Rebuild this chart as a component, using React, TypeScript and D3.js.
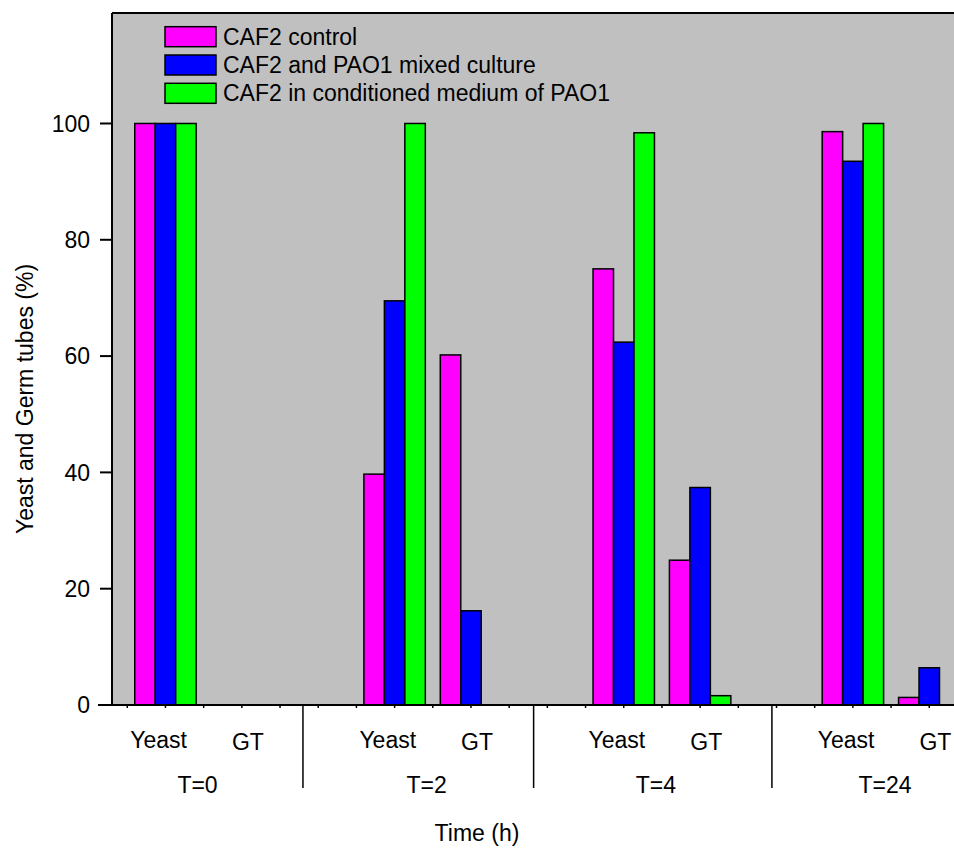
import React from "react";
import * as d3 from "d3";

const timepoints = ["T=0", "T=2", "T=4", "T=24"];
const stages = ["Yeast", "GT"];
const seriesNames = [
  "CAF2 control",
  "CAF2 and PAO1 mixed culture",
  "CAF2 in conditioned medium of PAO1",
];
const seriesColors = ["#FF00FF", "#0000FF", "#00FF00"];
// values ordered: T=0 Yeast, T=0 GT, T=2 Yeast, T=2 GT, T=4 Yeast, T=4 GT, T=24 Yeast, T=24 GT
const control = [100, 0, 39.7, 60.2, 75.0, 24.9, 98.6, 1.3];
const mixed = [100, 0, 69.5, 16.2, 62.4, 37.4, 93.5, 6.4];
const conditioned = [100, 0, 100, 0, 98.4, 1.6, 100, 0];
const yTicks = [0, 20, 40, 60, 80, 100];

const W = 954;
const H = 851;
const FONT = "'Liberation Sans', Arial, sans-serif";
const FS = 23;

export default function App() {
  const left = 112;
  const top = 13;
  const bottom = 705;
  const x = d3.scaleLinear().domain([-0.7, 10.5]).range([left, left + 11.2 * 76.38]);
  const y = d3.scaleLinear().domain([0, 119]).range([bottom, top]);
  const seriesData = [control, mixed, conditioned];
  const bw = 0.268;
  const bwPx = x(bw) - x(0);

  const bars: React.ReactNode[] = [];
  seriesData.forEach((vals, si) => {
    vals.forEach((v, k) => {
      const t = Math.floor(k / 2);
      const s = k % 2;
      const pos = t * 3 + s;
      if (v <= 0) return;
      const cx = x(pos + (si - 1) * bw);
      bars.push(
        <rect
          key={`b${si}-${k}`}
          x={cx - bwPx / 2}
          y={y(v)}
          width={bwPx}
          height={y(0) - y(v)}
          fill={seriesColors[si]}
          stroke="#000"
          strokeWidth={1.5}
        />
      );
    });
  });

  const minorTicks = d3.range(-0.5, 10.51, 0.5);
  const separators = [1.8, 4.82, 7.94];
  const stageOffsets = [-0.09, 0.08];

  return (
    <svg
      width={W}
      height={H}
      style={{ position: "absolute", left: 0, top: 0, background: "#fff" }}
      fontFamily={FONT}
    >
      <rect x={left} y={top} width={W - left + 10} height={bottom - top} fill="#C0C0C0" />
      {bars}
      {/* frame */}
      <line x1={left} x2={W + 5} y1={top} y2={top} stroke="#000" strokeWidth={2} />
      <line x1={left} x2={left} y1={top} y2={bottom} stroke="#000" strokeWidth={2} />
      <line x1={left - 14} x2={W + 5} y1={bottom} y2={bottom} stroke="#000" strokeWidth={2} />
      {/* y ticks */}
      {yTicks.map((t) => (
        <g key={`yt${t}`}>
          <line x1={left - 12} x2={left} y1={y(t)} y2={y(t)} stroke="#000" strokeWidth={2} />
          <text x={left - 22} y={y(t)} dy="0.36em" textAnchor="end" fontSize={FS}>
            {t}
          </text>
        </g>
      ))}
      {/* x minor ticks */}
      {minorTicks.map((t) => (
        <line key={`xt${t}`} x1={x(t)} x2={x(t)} y1={bottom} y2={bottom + 3} stroke="#000" strokeWidth={1.5} />
      ))}
      {/* separators */}
      {separators.map((s) => (
        <line key={`sep${s}`} x1={x(s)} x2={x(s)} y1={bottom} y2={788} stroke="#000" strokeWidth={1.5} />
      ))}
      {/* stage labels */}
      {timepoints.map((tp, t) =>
        stages.map((st, s) => (
          <text
            key={`st${t}-${s}`}
            x={x(t * 3 + s + stageOffsets[s])}
            y={748 + s * 1.5}
            textAnchor="middle"
            fontSize={FS}
          >
            {st}
          </text>
        ))
      )}
      {timepoints.map((tp, t) => (
        <text key={`tp${t}`} x={x(t * 3 + 0.42)} y={793} textAnchor="middle" fontSize={FS}>
          {tp}
        </text>
      ))}
      <text x={477} y={841} textAnchor="middle" fontSize={FS}>
        Time (h)
      </text>
      <text
        transform={`translate(33,399) rotate(-90)`}
        textAnchor="middle"
        fontSize={FS}
      >
        Yeast and Germ tubes (%)
      </text>
      {/* legend */}
      {seriesNames.map((n, i) => (
        <g key={`lg${i}`} transform={`translate(165,${26.7 + i * 28.3})`}>
          <rect x={0} y={0} width={51} height={20} fill={seriesColors[i]} stroke="#000" strokeWidth={1.5} />
          <text x={58} y={18} fontSize={FS}>
            {n}
          </text>
        </g>
      ))}
    </svg>
  );
}
